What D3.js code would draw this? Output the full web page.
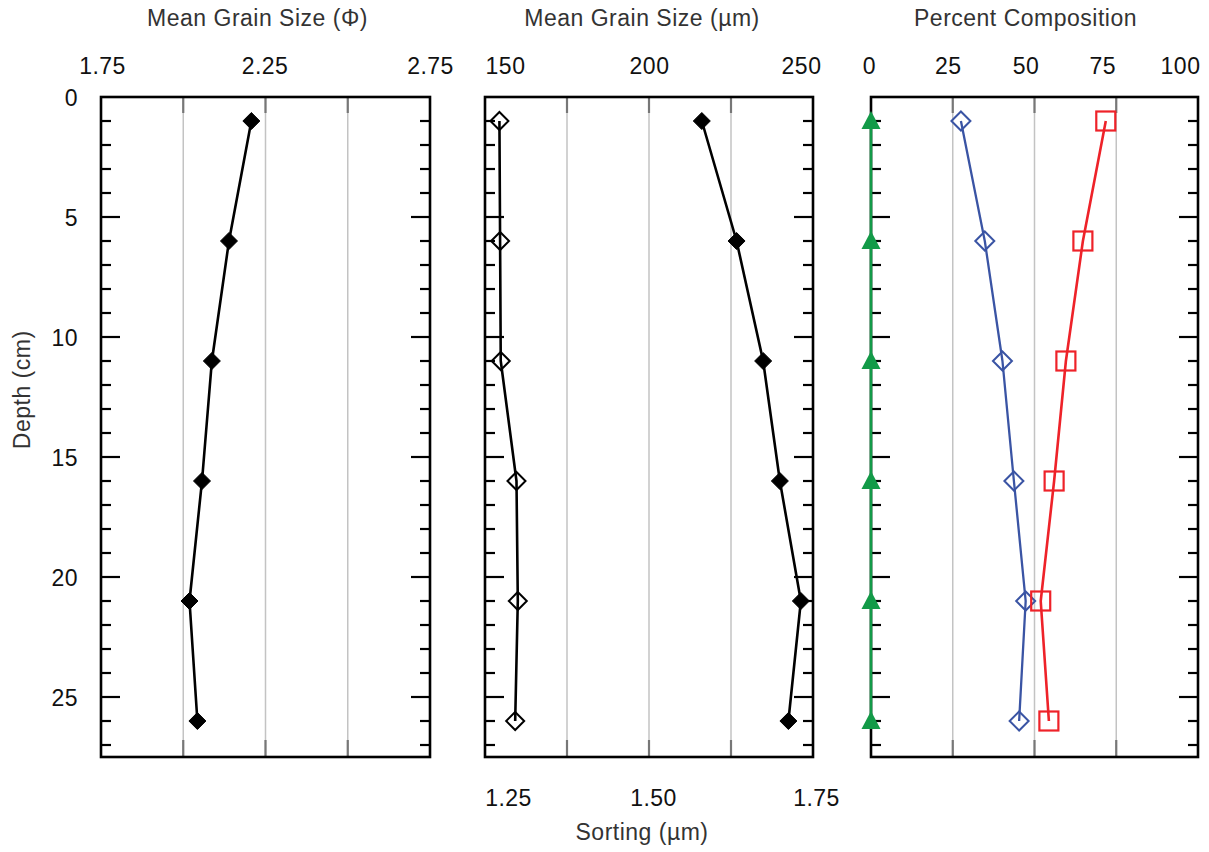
<!DOCTYPE html>
<html>
<head>
<meta charset="utf-8">
<script src="https://cdn.jsdelivr.net/npm/d3@7"></script>
<style>
  html, body { margin: 0; padding: 0; background: #fff; }
  svg { display: block; font-family: "Liberation Sans", Arial, Helvetica, sans-serif; }
</style>
</head>
<body>
<svg id="chart" width="1209" height="852"></svg>
<script>
// ---------------- DATA ----------------
const depths      = [1, 6, 11, 16, 21, 26];
const phiMean     = [2.207, 2.139, 2.087, 2.057, 2.019, 2.043];
const umMean      = [216.1, 226.7, 234.8, 239.9, 246.3, 242.5];
const sorting     = [1.272, 1.273, 1.274, 1.298, 1.300, 1.296];
const pctGreen    = [0, 0, 0, 0, 0, 0];
const pctBlue     = [27.5, 34.8, 40.2, 43.7, 47.3, 45.3];
const pctRed      = [71.8, 64.8, 59.6, 56.0, 51.9, 54.4];

const depthTicks  = [0, 5, 10, 15, 20, 25];
const phiTicks    = [1.75, 2.25, 2.75];
const phiLabels   = ["1.75", "2.25", "2.75"];
const phiGrid     = [2.0, 2.25, 2.5];
const umTicks     = [150, 200, 250];
const umLabels    = ["150", "200", "250"];
const umGrid      = [175, 200, 225];
const sortTicks   = [1.25, 1.50, 1.75];
const sortLabels  = ["1.25", "1.50", "1.75"];
const pctTicks    = [0, 25, 50, 75, 100];
const pctLabels   = ["0", "25", "50", "75", "100"];
const pctGrid     = [25, 50, 75];

const titles = ["Mean Grain Size (\u03A6)", "Mean Grain Size (\u00B5m)", "Percent Composition"];
const bottomTitle = "Sorting (\u00B5m)";
const depthTitle = "Depth (cm)";

// ---------------- LAYOUT ----------------
const yTop = 97, yBottom = 757;
const P = [{x0: 101, x1: 430}, {x0: 485, x1: 813}, {x0: 871, x1: 1198}];
const fontSize = 23;
const letterSp = 0.5;
// label placement shifts (px) relative to the data scale, as in the original figure
const phiLabelShift  = [1, -1, 0];
const umLabelShift   = [20, 0, -12];
const sortLabelShift = [23, 4, 3];
const pctLabelShift  = [-2, -5, -9, -14, -18];

const svg = d3.select("#chart");

const y = d3.scaleLinear().domain([0, 27.5]).range([yTop, yBottom]);
const xPhi  = d3.scaleLinear().domain([1.75, 2.75]).range([P[0].x0, P[0].x1]);
const xUm   = d3.scaleLinear().domain([150, 250]).range([P[1].x0, P[1].x1]);
const xSort = d3.scaleLinear().domain([1.25, 1.75]).range([P[1].x0, P[1].x1]);
const xPct  = d3.scaleLinear().domain([0, 100]).range([P[2].x0, P[2].x1]);

function labelScale(scale, ticks, shift) {
  return d3.scaleLinear().domain(ticks).range(ticks.map((t, i) => scale(t) + shift[i]));
}

const gridColor = "#c3c3c3";

function drawPanel(p, scale, grid) {
  const g = svg.append("g");
  g.selectAll("line.grid").data(grid).join("line")
    .attr("x1", d => scale(d)).attr("x2", d => scale(d))
    .attr("y1", yTop).attr("y2", yBottom)
    .attr("stroke", gridColor).attr("stroke-width", 1.5);
  g.append("g").selectAll("line").data(grid).join("line")
    .attr("x1", d => scale(d)).attr("x2", d => scale(d))
    .attr("y1", yTop).attr("y2", yTop + 16)
    .attr("stroke", "#777").attr("stroke-width", 2.2);
  g.append("g").selectAll("line").data(grid).join("line")
    .attr("x1", d => scale(d)).attr("x2", d => scale(d))
    .attr("y1", yBottom - 17).attr("y2", yBottom)
    .attr("stroke", "#777").attr("stroke-width", 2.2);
  const all = d3.range(1, 28);
  const isMajor = d => d % 5 === 0;
  g.append("g").selectAll("line").data(all).join("line")
    .attr("x1", p.x0).attr("x2", d => p.x0 + (isMajor(d) ? 19 : 10))
    .attr("y1", d => y(d)).attr("y2", d => y(d))
    .attr("stroke", "#000").attr("stroke-width", 2.2);
  g.append("g").selectAll("line").data(all).join("line")
    .attr("x1", p.x1).attr("x2", d => p.x1 - (isMajor(d) ? 19 : 10))
    .attr("y1", d => y(d)).attr("y2", d => y(d))
    .attr("stroke", "#000").attr("stroke-width", 2.2);
  g.append("rect")
    .attr("x", p.x0).attr("y", yTop)
    .attr("width", p.x1 - p.x0).attr("height", yBottom - yTop)
    .attr("fill", "none").attr("stroke", "#000").attr("stroke-width", 2.6);
  return g;
}

function styleAxisText(g) {
  g.select(".domain").remove();
  g.selectAll("text").attr("font-size", fontSize).attr("fill", "#111")
    .attr("letter-spacing", letterSp)
    .attr("font-family", "Liberation Sans, Arial, sans-serif");
}
function topLabels(scale, ticks, labels, yPos) {
  const ax = d3.axisTop(scale).tickValues(ticks).tickSize(0).tickPadding(0)
    .tickFormat((d, i) => labels[i]);
  const g = svg.append("g").attr("transform", `translate(0,${yPos})`).call(ax);
  styleAxisText(g);
  g.selectAll("text").attr("dy", 0);
}
function bottomLabels(scale, ticks, labels, yPos) {
  const ax = d3.axisBottom(scale).tickValues(ticks).tickSize(0).tickPadding(0)
    .tickFormat((d, i) => labels[i]);
  const g = svg.append("g").attr("transform", `translate(0,${yPos})`).call(ax);
  styleAxisText(g);
  g.selectAll("text").attr("dy", 0);
}

drawPanel(P[0], xPhi, phiGrid);
drawPanel(P[1], xUm, umGrid);
drawPanel(P[2], xPct, pctGrid);

topLabels(labelScale(xPhi, phiTicks, phiLabelShift), phiTicks, phiLabels, 74);
topLabels(labelScale(xUm, umTicks, umLabelShift), umTicks, umLabels, 74);
topLabels(labelScale(xPct, pctTicks, pctLabelShift), pctTicks, pctLabels, 74);
bottomLabels(labelScale(xSort, sortTicks, sortLabelShift), sortTicks, sortLabels, 806);

{
  const ax = d3.axisLeft(y).tickValues(depthTicks).tickSize(0).tickPadding(0);
  const g = svg.append("g").attr("transform", `translate(${P[0].x0 - 23},0)`).call(ax);
  styleAxisText(g);
  g.selectAll("text").attr("dy", "0.36em");
}

const titleX = [(P[0].x0 + P[0].x1) / 2 - 8, (P[1].x0 + P[1].x1) / 2 - 7, (P[2].x0 + P[2].x1) / 2 - 9];
svg.selectAll("text.title").data(titles).join("text")
  .attr("class", "title")
  .attr("x", (d, i) => titleX[i]).attr("y", 26)
  .attr("text-anchor", "middle").attr("font-size", fontSize).attr("fill", "#333")
  .attr("letter-spacing", letterSp)
  .text(d => d);
svg.append("text").attr("x", (P[1].x0 + P[1].x1) / 2 - 7).attr("y", 840)
  .attr("text-anchor", "middle").attr("font-size", fontSize).attr("fill", "#333")
  .attr("letter-spacing", letterSp)
  .text(bottomTitle);
svg.append("text")
  .attr("transform", `translate(30,${y(12.2)}) rotate(-90)`)
  .attr("text-anchor", "middle").attr("font-size", fontSize).attr("fill", "#333")
  .attr("letter-spacing", letterSp)
  .text(depthTitle);

// ---------------- SERIES ----------------
function series(scale, values, color, width) {
  const pts = values.map((v, i) => [scale(v), y(depths[i])]);
  svg.append("path").datum(pts)
    .attr("d", d3.line())
    .attr("fill", "none").attr("stroke", color).attr("stroke-width", width)
    .attr("stroke-linejoin", "round");
  return pts;
}
function diamonds(pts, color, filled, r) {
  svg.append("g").selectAll("path").data(pts).join("path")
    .attr("d", d => `M${d[0]},${d[1] - r}L${d[0] + r},${d[1]}L${d[0]},${d[1] + r}L${d[0] - r},${d[1]}Z`)
    .attr("fill", filled ? color : "none")
    .attr("stroke", color).attr("stroke-width", filled ? 1 : 2);
}
function squares(pts, color, s) {
  svg.append("g").selectAll("rect").data(pts).join("rect")
    .attr("x", d => d[0] - s / 2).attr("y", d => d[1] - s / 2)
    .attr("width", s).attr("height", s)
    .attr("fill", "none").attr("stroke", color).attr("stroke-width", 2.2);
}
function triangles(pts, color, w, h) {
  svg.append("g").selectAll("path").data(pts).join("path")
    .attr("d", d => `M${d[0]},${d[1] - h / 2 - 1}L${d[0] + w / 2},${d[1] + h / 2 - 1}L${d[0] - w / 2},${d[1] + h / 2 - 1}Z`)
    .attr("fill", color).attr("stroke", "none");
}

const pPhi = series(xPhi, phiMean, "#000", 2.6);
diamonds(pPhi, "#000", true, 8.5);

const pSort = series(xSort, sorting, "#000", 2.6);
diamonds(pSort, "#000", false, 9);
const pUm = series(xUm, umMean, "#000", 2.6);
diamonds(pUm, "#000", true, 8.5);

const pGreen = series(xPct, pctGreen, "#139a48", 2.6);
const pBlue = series(xPct, pctBlue, "#3a54a4", 2.3);
const pRed = series(xPct, pctRed, "#ee2229", 2.6);
diamonds(pBlue, "#3a54a4", false, 9.5);
squares(pRed, "#ee2229", 19);
triangles(pGreen, "#139a48", 19, 18);
</script>
</body>
</html>
